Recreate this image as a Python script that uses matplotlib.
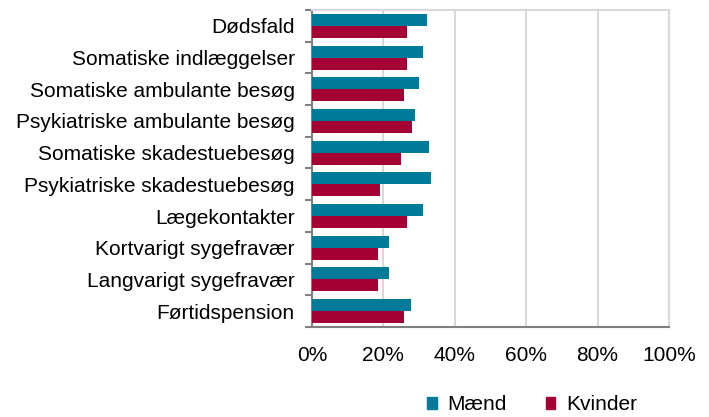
import matplotlib.pyplot as plt
from matplotlib.ticker import PercentFormatter
from matplotlib.patches import Patch
import numpy as np

plt.rcParams['font.family'] = ['Liberation Sans', 'DejaVu Sans']

categories = ['Dødsfald', 'Somatiske indlæggelser', 'Somatiske ambulante besøg',
              'Psykiatriske ambulante besøg', 'Somatiske skadestuebesøg',
              'Psykiatriske skadestuebesøg', 'Lægekontakter', 'Kortvarigt sygefravær',
              'Langvarigt sygefravær', 'Førtidspension']
maend = [32.2, 31.1, 30.0, 28.9, 32.8, 33.4, 31.1, 21.6, 21.6, 27.8]
kvinder = [26.5, 26.5, 25.9, 28.1, 24.8, 19.1, 26.5, 18.6, 18.6, 25.9]

c_m = '#007a99'
c_k = '#a50034'

fig = plt.figure(figsize=(7.09, 4.17), dpi=100)
ax = fig.add_axes([312/709, 1 - 327/417, 357/709, 317/417])

y = np.arange(len(categories))
h = 0.38
ax.barh(y - h/2, maend, height=h, color=c_m, zorder=3)
ax.barh(y + h/2, kvinder, height=h, color=c_k, zorder=3)

ax.set_xlim(0, 100)
ax.set_ylim(len(categories) - 0.5, -0.5)
ax.xaxis.set_major_formatter(PercentFormatter(decimals=0))
ax.set_xticks(range(0, 101, 20))
ax.set_yticks(y)
ax.set_yticklabels(categories)
ax.set_yticks(np.arange(-0.5, len(categories)), minor=True)
ax.tick_params(axis='y', which='major', length=0, pad=12.5, labelsize=15)
ax.tick_params(axis='y', which='minor', length=5, width=1.5, color='#808080')
ax.tick_params(axis='x', length=0, pad=14, labelsize=15)
ax.grid(axis='x', color='#d9d9d9', linewidth=1.5, zorder=0)

for s in ['left', 'bottom']:
    ax.spines[s].set_color('#808080')
    ax.spines[s].set_linewidth(1.5)
for s in ['top', 'right']:
    ax.spines[s].set_color('#d9d9d9')
    ax.spines[s].set_linewidth(1.5)

handles = [Patch(color=c_m, label='Mænd'), Patch(color=c_k, label='Kvinder')]
fig.legend(handles=handles, loc='center', bbox_to_anchor=(532/709, 1 - 405/417),
           ncol=2, frameon=False, fontsize=15, handlelength=0.45, handleheight=0.45,
           handletextpad=0.5, columnspacing=1.9, borderpad=0)

fig.savefig('out.png', dpi=100)
